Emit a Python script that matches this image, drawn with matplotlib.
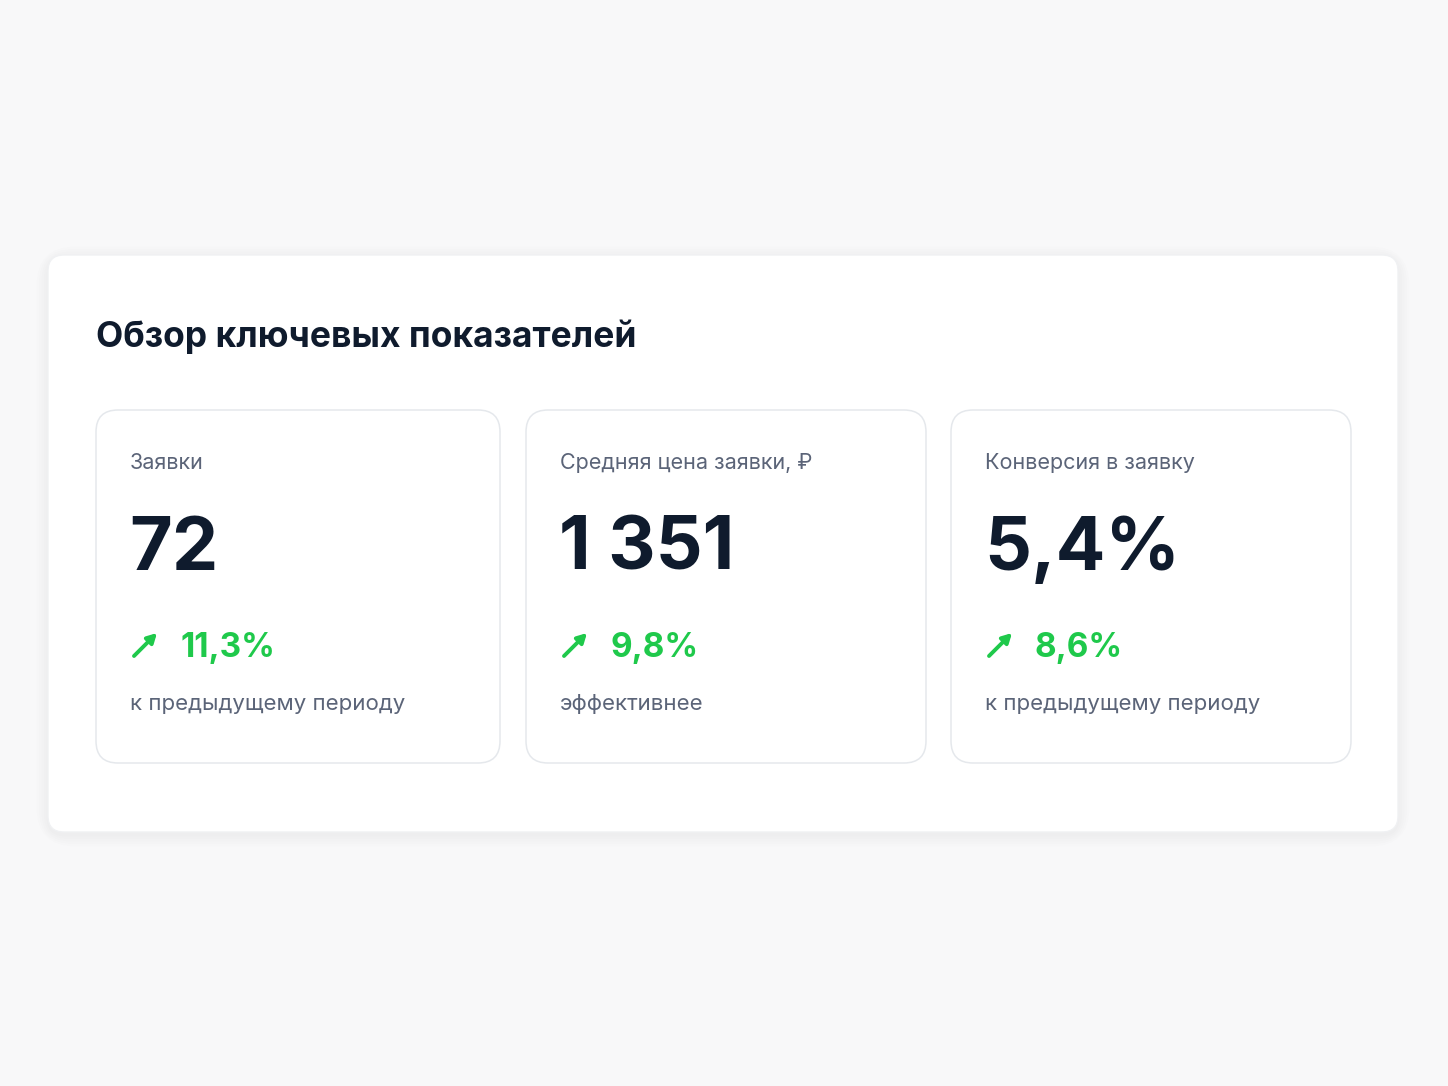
import matplotlib
matplotlib.use("Agg")
import matplotlib.pyplot as plt
from matplotlib.patches import FancyBboxPatch

title = "Обзор ключевых показателей"
labels = ["Заявки", "Средняя цена заявки, ₽", "Конверсия в заявку"]
values = ["72", "1 351", "5,4%"]
changes = ["11,3%", "9,8%", "8,6%"]
notes = ["к предыдущему периоду", "эффективнее", "к предыдущему периоду"]

plt.rcParams['font.family'] = ['Inter', 'DejaVu Sans']
fig = plt.figure(figsize=(14.48, 10.86), dpi=100)
fig.patch.set_facecolor('#f8f8f9')
ax = fig.add_axes([0, 0, 1, 1])
ax.set_xlim(0, 1448); ax.set_ylim(1086, 0); ax.axis('off')

# shadow
for i in range(5):
    d = 3 + i * 5
    ax.add_patch(FancyBboxPatch((48 - d/2, 255 - d/2 + 3), 1350 + d, 577 + d,
                                boxstyle="round,pad=0,rounding_size=%d" % (16 + d),
                                fc='black', ec='none', alpha=0.007))
ax.add_patch(FancyBboxPatch((48, 255), 1350, 577, boxstyle="round,pad=0,rounding_size=16",
                            fc='white', ec='#f0f1f3', lw=1))
ax.text(96, 337, title, fontsize=25.5, fontweight='bold', color='#0f1b2d', va='center')

xs = [96, 526, 951]
w = 404
green = '#1fc94b'
for x, lab, val, ch, note in zip(xs, labels, values, changes, notes):
    ax.add_patch(FancyBboxPatch((x, 410), w - (4 if x > 96 else 0), 353,
                                boxstyle="round,pad=0,rounding_size=22",
                                fc='white', ec='#e5e8ec', lw=1.1))
    ax.text(x + 34, 463, lab, fontsize=15.5, color='#5b6478', va='center')
    ax.text(x + 33, 550, val, fontsize=53, fontweight='bold', color='#0f1b2d', va='center')
    ax.annotate('', xy=(x + 61, 633), xytext=(x + 38, 656),
                arrowprops=dict(arrowstyle='-|>,head_length=0.55,head_width=0.3',
                                color=green, lw=2.8, shrinkA=0, shrinkB=0))
    ax.text(x + 84, 648, ch, fontsize=24, fontweight='bold', color=green, va='center')
    ax.text(x + 34, 704, note, fontsize=16, color='#5b6478', va='center')

fig.savefig('out.png', dpi=100, facecolor=fig.get_facecolor())
